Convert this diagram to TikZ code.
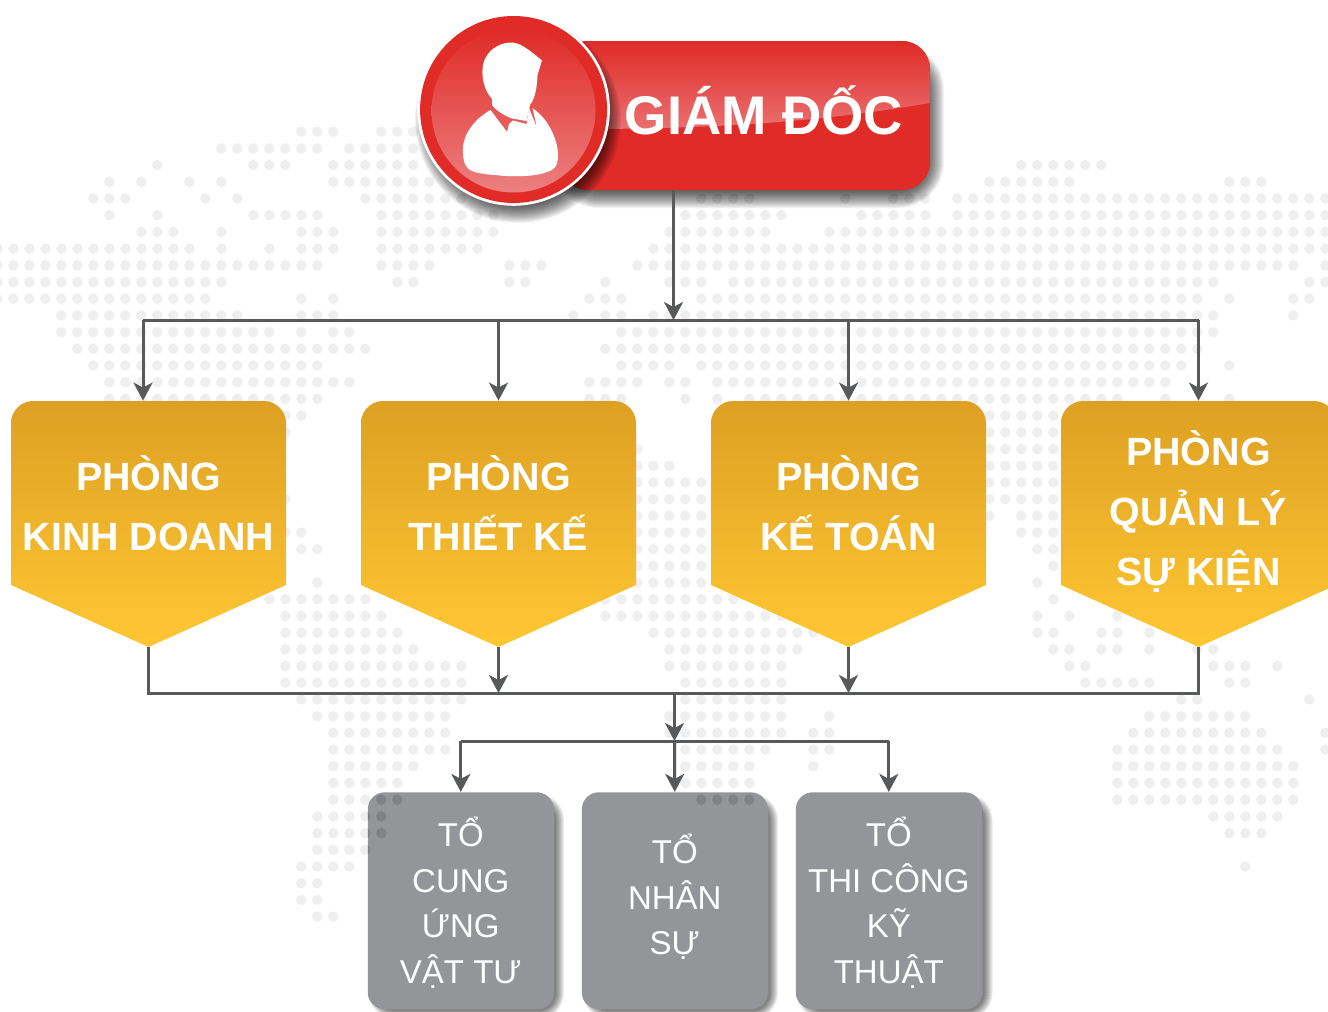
\documentclass[tikz,border=0pt]{standalone}
\usepackage{fontspec}
\setmainfont{Liberation Sans}
\usetikzlibrary{arrows.meta}
\definecolor{mapgrey}{HTML}{EFEFF0}
\definecolor{lineGrey}{HTML}{58595B}
\definecolor{boxGrey}{HTML}{939598}
\definecolor{redMain}{HTML}{E02B27}
\definecolor{redGloss}{HTML}{EA7070}
\definecolor{redLow}{HTML}{EC8080}
\definecolor{pentTop}{HTML}{DDA023}
\definecolor{pentBot}{HTML}{FFC733}
\tikzset{
  mapdot/.style={fill=mapgrey},
  conn/.style={draw=lineGrey,line width=1.5pt},
  arr/.style={conn,-{Stealth[length=9pt,width=9.5pt,inset=2.5pt]}},
  barbox/.style={fill=redMain,rounded corners=14pt,minimum width=185pt,minimum height=74.5pt,inner sep=0pt},
  bartext/.style={text=white,font=\fontsize{27.2}{30}\selectfont\bfseries,inner sep=0pt},
  pentarea/.style={minimum width=137.5pt,minimum height=123pt,inner sep=0pt},
  pentlabel/.style={text=white,align=center,inner sep=0pt,font=\fontsize{19.7}{30}\selectfont\bfseries},
  teambox/.style={fill=boxGrey,text=white,align=center,rounded corners=8.5pt,minimum width=93pt,minimum height=108.5pt,inner sep=0pt,font=\fontsize{16.5}{22.9}\selectfont},
}
% one row of the dotted map: row number, list of first/last columns
\newcommand{\dotrow}[2]{%
  \foreach \a/\b in {#2} {\foreach \c in {\a,...,\b} {\fill[mapdot] (13.3+16*\c,131.7+16.7*#1) circle (5.3);}}}
% yellow department shape with its text
\newcommand{\pentbox}[4]{%
  \shade[top color=pentTop,bottom color=pentBot] (#2,647) -- (#2-137.5,585) -- (#2-137.5,423)
    .. controls (#2-137.5,411) and (#2-127.5,401) .. (#2-115.5,401) -- (#2+115.5,401)
    .. controls (#2+127.5,401) and (#2+137.5,411) .. (#2+137.5,423) -- (#2+137.5,585) -- cycle;
  \node[pentarea] (#1) at (#2,524) {};
  \node[pentlabel] (#1label) at (#2,#3) {#4};}
% soft stacked shadow round a path: widest stroke, opacity, path
\newcommand{\softshadow}[3]{%
  \foreach \w in {2,4,...,#1} {\draw[black,opacity=#2,line width=\w*.5pt] #3;}}
\begin{document}
\begin{tikzpicture}[x=.5pt,y=-.5pt]
\useasboundingbox (0,0) rectangle (1328,1012);

% dotted map
\dotrow{0}{18/20,23/25}
\dotrow{1}{13/19,21/25}
\dotrow{2}{9/9,15/17,20/25,63/68}
\dotrow{3}{6/6,8/8,11/11,13/13,20/26,61/66,76/78}
\dotrow{4}{5/7,12/12,14/14,22/28,43/46,52/52,55/57,59/82}
\dotrow{5}{6/6,9/9,15/19,23/30,42/48,53/57,59/82}
\dotrow{6}{8/10,13/13,18/20,23/30,41/47,51/82}
\dotrow{7}{-1/11,13/13,16/16,18/20,23/29,40/82}
\dotrow{8}{-1/19,23/26,31/33,39/80,82/82}
\dotrow{9}{-1/13,24/25,31/32,37/37,41/43,45/75,81/82}
\dotrow{10}{-1/12,18/18,20/20,36/38,43/74,76/76,80/81}
\dotrow{11}{3/14,18/20,35/35,37/38,40/75,80/80}
\dotrow{12}{3/16,18/18,20/21,38/75}
\dotrow{13}{4/22,37/74}
\dotrow{14}{5/19,38/41,43/73,76/76}
\dotrow{15}{6/21,36/39,41/42,44/72}
\dotrow{16}{6/19,36/38,42/42,44/44,46/69,72/72,76/76}
\dotrow{17}{17/18,61/65}
\dotrow{18}{17/17,61/65}
\dotrow{19}{39/39,61/65}
\dotrow{20}{39/41,61/65}
\dotrow{21}{39/43,61/65}
\dotrow{22}{17/17,39/43,61/65}
\dotrow{23}{39/43,61/61,63/65}
\dotrow{24}{17/18,39/43,63/65}
\dotrow{25}{18/19,39/43,64/65}
\dotrow{26}{39/43,65/65}
\dotrow{27}{19/19,39/43,64/64}
\dotrow{28}{16/22,37/45,65/65}
\dotrow{29}{17/23,37/48,64/64,66/66,69/69}
\dotrow{30}{17/24,40/50,64/65,68/69,71/71}
\dotrow{31}{17/25,41/49,65/66,68/69,71/71,74/75}
\dotrow{32}{17/28,41/48,66/67,75/77,79/79}
\dotrow{33}{17/28,42/48,67/71,76/77}
\dotrow{34}{18/28,42/48,73/74,81/81}
\dotrow{35}{19/27,41/48,51/51,71/77}
\dotrow{36}{20/27,41/48,50/51,70/78,82/82}
\dotrow{37}{20/27,42/47,50/51,69/79,82/82}
\dotrow{38}{20/25,42/46,50/50,69/80}
\dotrow{39}{20/24,42/46,69/80}
\dotrow{40}{20/24,43/46,69/80}
\dotrow{41}{19/23,75/79}
\dotrow{42}{19/23,76/78}
\dotrow{43}{19/22}
\dotrow{44}{18/21,77/77}
\dotrow{45}{18/19}
\dotrow{46}{18/19}
\dotrow{47}{19/20}

% director bar
\softshadow{36}{.05}{[rounded corners=14pt] (570,62) rectangle (926,190)}
\node[barbox] (bar) at (745,115.5) {};
\begin{scope}
  \clip[rounded corners=14pt] (560,41) rectangle (930,190);
  \shade[top color=redMain,bottom color=redGloss] (560,41) -- (930,41) -- (930,103)
    .. controls (820,122) and (720,128) .. (600,129) -- (560,129) -- cycle;
\end{scope}
\node[bartext] (giamdoc) at (764,110) {GIÁM ĐỐC};

% connectors
\coordinate (topbus) at (673.5,320);
\coordinate (topleft) at (143,320);
\coordinate (topright) at (1198.5,320);
\coordinate (lowbus) at (674.5,693);
\coordinate (teambus) at (674.5,741);

\pentbox{kinh}{148.5}{503}{PHÒNG\\KINH DOANH}
\pentbox{thiet}{498.5}{503}{PHÒNG\\THIẾT KẾ}
\pentbox{ketoan}{848.5}{503}{PHÒNG\\KẾ TOÁN}
\pentbox{sukien}{1198.5}{512}{PHÒNG\\QUẢN LÝ\\SỰ KIỆN}

% team boxes
\softshadow{18}{.07}{[rounded corners=8.5pt] (378,803) rectangle (555,1010)}
\softshadow{18}{.07}{[rounded corners=8.5pt] (592,803) rectangle (769,1010)}
\softshadow{18}{.07}{[rounded corners=8.5pt] (806,803) rectangle (983.5,1010)}
\node[teambox] (cungung) at (460.8,900.8) {TỔ\\CUNG\\ỨNG\\VẬT TƯ\par\vspace{-2pt}};
\node[teambox] (nhansu) at (674.8,900.8) {TỔ\\NHÂN\\SỰ\par\vspace{4pt}};
\node[teambox] (thicong) at (888.8,900.8) {TỔ\\THI CÔNG\\KỸ\\THUẬT\par\vspace{-2pt}};
% map dots seen through the team boxes
\begin{scope}
  \clip[rounded corners=8.5pt] (367.8,792.3) rectangle (553.8,1009.3);
  \foreach \c/\r in {22/40,23/40,24/40,22/41,23/41,22/42,23/42,22/43}
    {\fill[black,opacity=.12] (13.3+16*\c,131.7+16.7*\r) circle (5.3);}
\end{scope}
\foreach \c in {43,...,46} {\fill[black,opacity=.12] (13.3+16*\c,131.7+16.7*40) circle (5.3);}

\draw[arr] (bar.south -| topbus) -- (topbus);
\draw[conn] (topleft) -- (topright);
\draw[arr] (topleft) -- (topleft |- kinh.north);
\draw[arr] (topbus -| thiet.north) -- (thiet.north);
\draw[arr] (topbus -| ketoan.north) -- (ketoan.north);
\draw[arr] (topright) -- (sukien.north);

\draw[conn] (kinh.south) -- (lowbus -| kinh.south) -- (lowbus -| sukien.south) -- (sukien.south);
\draw[arr] (thiet.south) -- (lowbus -| thiet.south);
\draw[arr] (ketoan.south) -- (lowbus -| ketoan.south);
\draw[arr] (lowbus) -- (teambus);
\draw[conn] (teambus -| cungung.north) -- (teambus -| thicong.north);
\draw[arr] (teambus -| cungung.north) -- (cungung.north);
\draw[arr] (teambus) -- (nhansu.north);
\draw[arr] (teambus -| thicong.north) -- (thicong.north);

% director badge
\softshadow{36}{.05}{(518,120) circle (85)}
\fill[white] (513.6,109.5) circle (96.3);
\fill[redMain] (513.6,109.5) circle (93.5);
\shade[top color=redMain,bottom color=redLow] (513.5,110.5) circle (82);
\fill[white] (510,42.5) .. controls (518,42) and (526,47) .. (542,60.5) -- (537.5,75)
  .. controls (537,85) and (536,97) .. (530,105) -- (526.5,121) -- (512,118.5)
  .. controls (505,116) and (495,110) .. (492,105) -- (492,99)
  .. controls (484,90) and (482,78) .. (482.5,70) .. controls (483,52) and (498,43) .. (510,42.5) -- cycle;
\fill[white] (490.5,110) -- (507,132) -- (509,124) -- (513,120.5) -- (526.5,124) -- (529,108) -- (537,128)
  -- (532.6,108.3) .. controls (548,118) and (558,140) .. (558,155) .. controls (558,168) and (553,170) .. (547,172)
  .. controls (535,177) and (510,177) .. (495,175) .. controls (480,174) and (470,172) .. (466.6,166.7)
  .. controls (462,160) and (463,152) .. (463,146.7) .. controls (465,130) and (478,117) .. (490.5,110) -- cycle;
\end{tikzpicture}
\end{document}
